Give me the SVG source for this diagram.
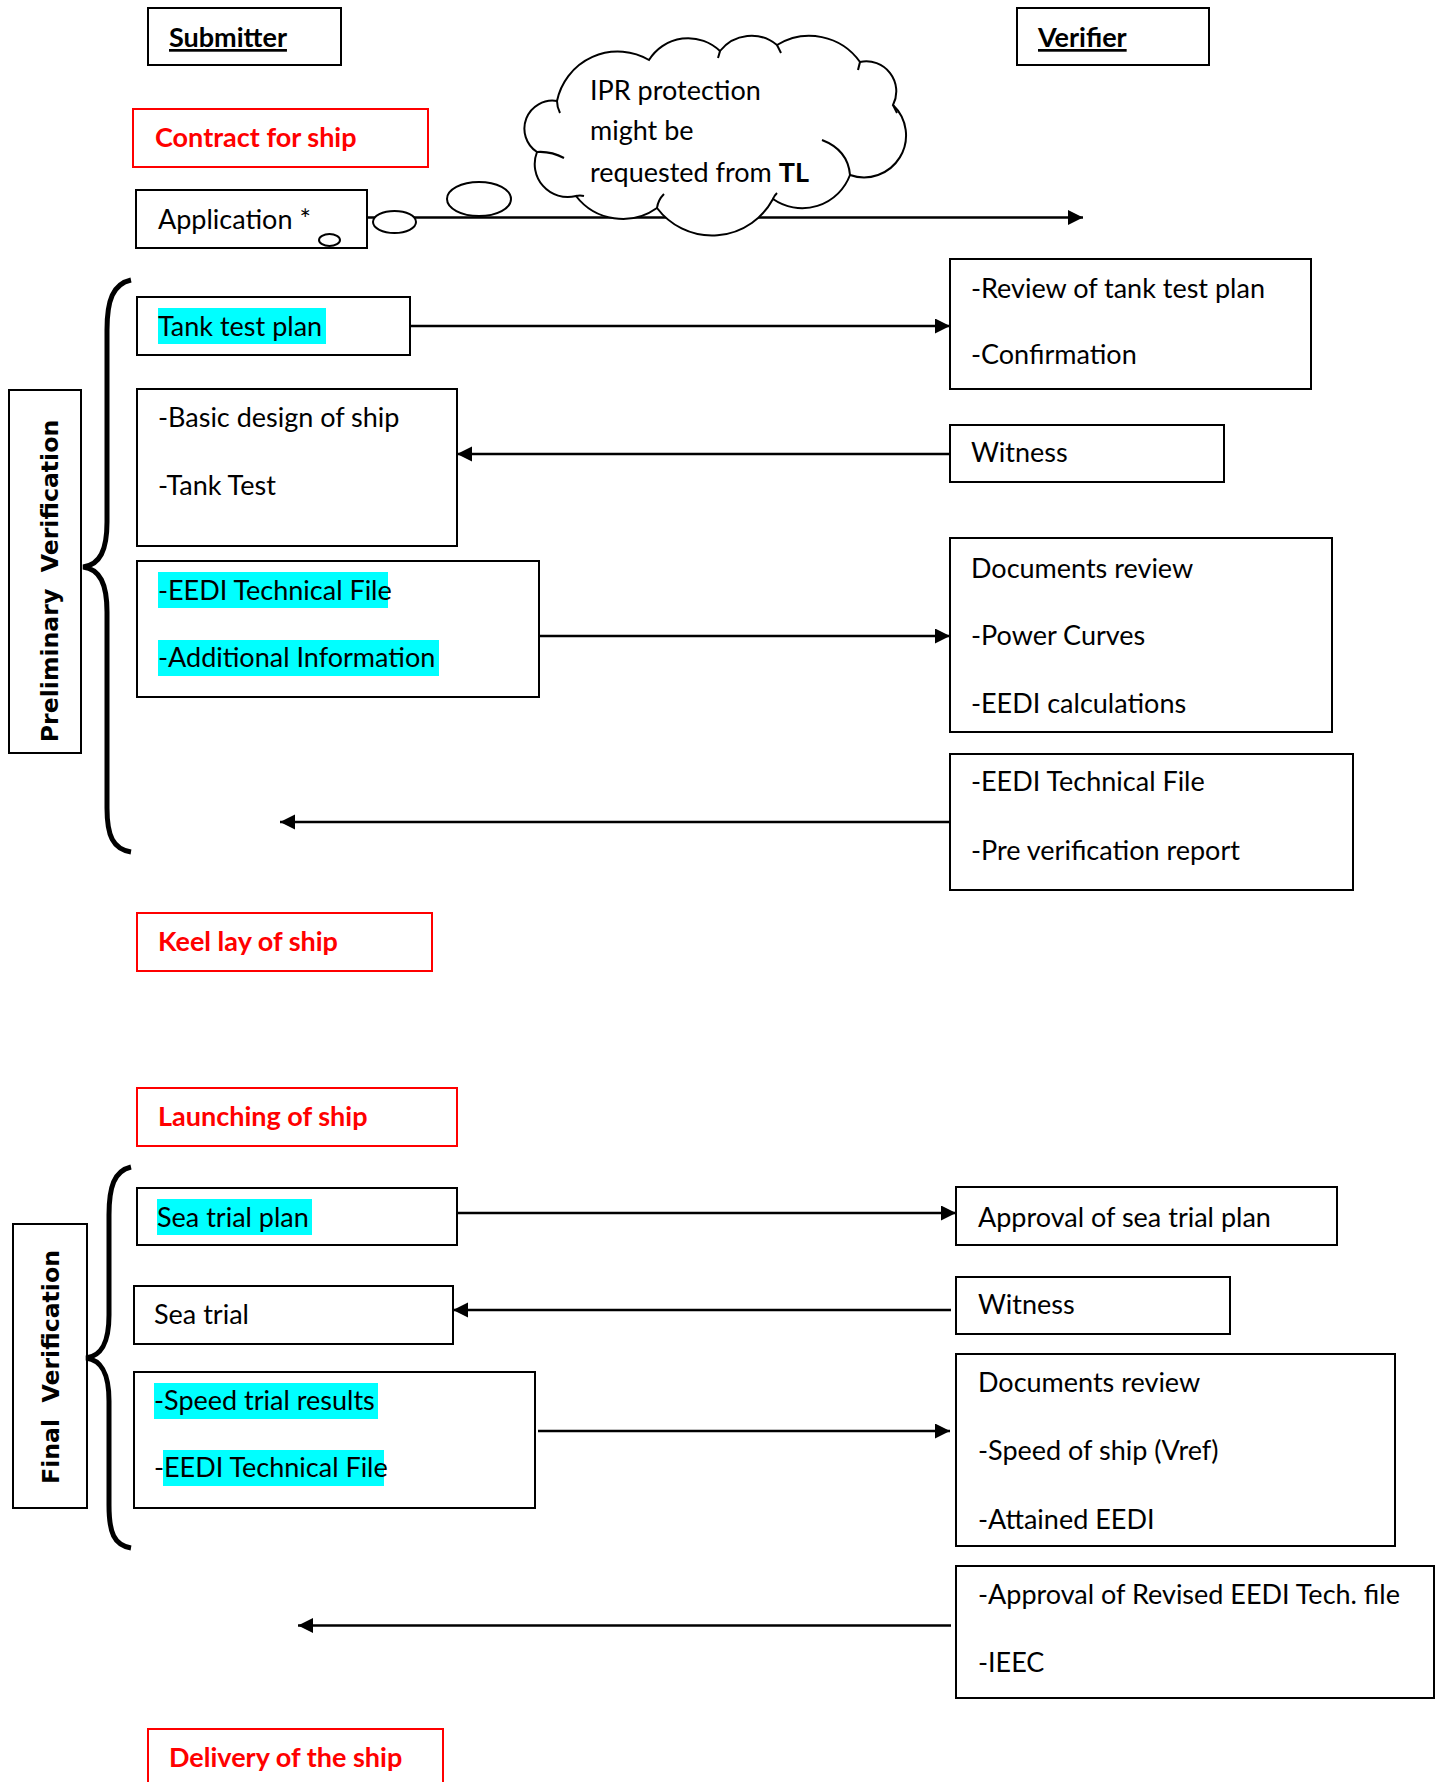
<svg xmlns="http://www.w3.org/2000/svg" width="1443" height="1782" viewBox="0 0 1443 1782">
<style>
.bg{fill:#fff}
.box{fill:#fff;stroke:#000;stroke-width:2}
.rbox{fill:#fff;stroke:#f00;stroke-width:2}
.t{font-family:Lato,"Liberation Sans",sans-serif;font-size:27px;fill:#000}
.b{font-family:Lato,"Liberation Sans",sans-serif;font-size:27px;font-weight:bold;fill:#000}
.red{fill:#f00}
.u{text-decoration:underline}
.hl{fill:#0ff}
.conn{stroke:#000;stroke-width:2.5;fill:none}
.brace{stroke:#000;stroke-width:5;fill:none;stroke-linecap:butt}
.vt{font-family:"DejaVu Sans",Verdana,sans-serif;font-size:23.6px;font-weight:bold;fill:#000;white-space:pre}
.cloud{fill:#fff;stroke:#000;stroke-width:2}
.inner{fill:none;stroke:#000;stroke-width:2}
</style>
<defs>
<marker id="arr" markerUnits="userSpaceOnUse" markerWidth="16" markerHeight="16" refX="15" refY="7.5" orient="auto">
<path d="M0,0 L15,7.5 L0,15 Z" fill="#000"/>
</marker>
</defs>
<rect class="bg" x="0" y="0" width="1443" height="1782"/>

<!-- connectors -->
<g id="connectors">
<line class="conn" x1="367" y1="217.5" x2="1083" y2="217.5" marker-end="url(#arr)"/>
<line class="conn" x1="410" y1="326" x2="950" y2="326" marker-end="url(#arr)"/>
<line class="conn" x1="950" y1="454" x2="457" y2="454" marker-end="url(#arr)"/>
<line class="conn" x1="539" y1="636" x2="950" y2="636" marker-end="url(#arr)"/>
<line class="conn" x1="950" y1="822" x2="280" y2="822" marker-end="url(#arr)"/>
<line class="conn" x1="457" y1="1213" x2="956" y2="1213" marker-end="url(#arr)"/>
<line class="conn" x1="951" y1="1310" x2="453" y2="1310" marker-end="url(#arr)"/>
<line class="conn" x1="538" y1="1431" x2="950" y2="1431" marker-end="url(#arr)"/>
<line class="conn" x1="951" y1="1625.5" x2="298" y2="1625.5" marker-end="url(#arr)"/>
</g>

<!-- headers -->
<g id="submitter">
<rect class="box" x="148" y="8" width="193" height="57"/>
<text class="b u" x="169" y="47">Submitter</text>
</g>
<g id="verifier">
<rect class="box" x="1017" y="8" width="192" height="57"/>
<text class="b u" x="1038" y="47">Verifier</text>
</g>

<!-- milestones -->
<g id="contract">
<rect class="rbox" x="133" y="109" width="295" height="58"/>
<text class="b red" x="155" y="147">Contract for ship</text>
</g>
<g id="keel">
<rect class="rbox" x="137" y="913" width="295" height="58"/>
<text class="b red" x="158" y="951">Keel lay of ship</text>
</g>
<g id="launching">
<rect class="rbox" x="137" y="1088" width="320" height="58"/>
<text class="b red" x="158" y="1126">Launching of ship</text>
</g>
<g id="delivery">
<rect class="rbox" x="148" y="1729" width="295" height="80"/>
<text class="b red" x="169" y="1767">Delivery of the ship</text>
</g>

<!-- application + cloud callout -->
<g id="application">
<rect class="box" x="136" y="190" width="231" height="58"/>
<text class="t" x="158" y="229">Application *</text>
</g>
<g id="ipr-cloud">
<ellipse class="cloud" cx="329.5" cy="240" rx="10.5" ry="6"/>
<ellipse class="cloud" cx="394.5" cy="222" rx="21.5" ry="11"/>
<ellipse class="cloud" cx="479" cy="199" rx="32" ry="17"/>
<path class="cloud" d="M537,152 A28,28 0 0 1 557,101 A62,62 0 0 1 649,60 A46,46 0 0 1 720,51 A40,40 0 0 1 777,45 A62,62 0 0 1 860,62 A30,30 0 0 1 893,105 A42,42 0 0 1 850,175 A51,51 0 0 1 773,199 A69,69 0 0 1 657,208 A59,59 0 0 1 576,196 A33,33 0 0 1 537,152 Z"/>
<path class="inner" d="M537,152 Q551,151 564,158"/>
<path class="inner" d="M557,101 Q557,107 560,113"/>
<path class="inner" d="M576,196 Q580,195 584,196"/>
<path class="inner" d="M657,208 Q658,200 664,194"/>
<path class="inner" d="M773,199 Q774,196 777,193"/>
<path class="inner" d="M822,140 Q848,150 850,175"/>
<path class="inner" d="M893,105 Q895,109 897,113"/>
<path class="inner" d="M860,62 Q859,66 858,70"/>
<path class="inner" d="M777,45 Q779,49 781,53"/>
<path class="inner" d="M720,51 Q719,55 718,58"/>
<text class="t" x="590" y="100">IPR protection</text>
<text class="t" x="590" y="140">might be</text>
<text class="t" x="590" y="182">requested from <tspan font-weight="bold">TL</tspan></text>
</g>

<!-- preliminary verification -->
<g id="prelim-label">
<rect class="box" x="9" y="390" width="72" height="363"/>
<text class="vt" text-anchor="middle" transform="translate(58,581) rotate(-90)">Preliminary  Verification</text>
</g>
<path id="prelim-brace" class="brace" d="M131,280 C113,284 107,300 107,330 L107,522 C107,550 100,565 83,567 C100,569 107,584 107,612 L107,808 C107,836 113,849 131,852"/>

<g id="tank-test-plan">
<rect class="box" x="137" y="297" width="273" height="58"/>
<rect class="hl" x="158" y="308" width="168" height="36"/>
<text class="t" x="158" y="336">Tank test plan</text>
</g>
<g id="basic-design">
<rect class="box" x="137" y="389" width="320" height="157"/>
<text class="t" x="158" y="427">-Basic design of ship</text>
<text class="t" x="158" y="495">-Tank Test</text>
</g>
<g id="eedi-submit">
<rect class="box" x="137" y="561" width="402" height="136"/>
<rect class="hl" x="158" y="572" width="230" height="36"/>
<rect class="hl" x="158" y="640" width="281" height="36"/>
<text class="t" x="158" y="600">-EEDI Technical File</text>
<text class="t" x="158" y="667">-Additional Information</text>
</g>

<g id="review-tank">
<rect class="box" x="950" y="259" width="361" height="130"/>
<text class="t" x="971" y="298">-Review of tank test plan</text>
<text class="t" x="971" y="364">-Confirmation</text>
</g>
<g id="witness-1">
<rect class="box" x="950" y="425" width="274" height="57"/>
<text class="t" x="971" y="462">Witness</text>
</g>
<g id="docs-review-1">
<rect class="box" x="950" y="538" width="382" height="194"/>
<text class="t" x="971" y="578">Documents review</text>
<text class="t" x="971" y="645">-Power Curves</text>
<text class="t" x="971" y="713">-EEDI calculations</text>
</g>
<g id="pre-verification">
<rect class="box" x="950" y="754" width="403" height="136"/>
<text class="t" x="971" y="791">-EEDI Technical File</text>
<text class="t" x="971" y="860">-Pre verification report</text>
</g>

<!-- final verification -->
<g id="final-label">
<rect class="box" x="13" y="1224" width="74" height="284"/>
<text class="vt" text-anchor="middle" transform="translate(59,1367) rotate(-90)">Final  Verification</text>
</g>
<path id="final-brace" class="brace" d="M131,1167 C114,1171 109,1187 109,1215 L109,1315 C109,1342 102,1356 86,1358 C102,1360 109,1374 109,1401 L109,1505 C109,1533 114,1545 131,1548"/>

<g id="sea-trial-plan">
<rect class="box" x="137" y="1188" width="320" height="57"/>
<rect class="hl" x="157" y="1199" width="155" height="36"/>
<text class="t" x="157" y="1227">Sea trial plan</text>
</g>
<g id="sea-trial">
<rect class="box" x="134" y="1286" width="319" height="58"/>
<text class="t" x="154" y="1324">Sea trial</text>
</g>
<g id="speed-trial">
<rect class="box" x="134" y="1372" width="401" height="136"/>
<rect class="hl" x="154" y="1383" width="224" height="36"/>
<rect class="hl" x="163" y="1450" width="221" height="36"/>
<text class="t" x="154" y="1410">-Speed trial results</text>
<text class="t" x="154" y="1477">-EEDI Technical File</text>
</g>

<g id="approval-sea-trial">
<rect class="box" x="956" y="1187" width="381" height="58"/>
<text class="t" x="978" y="1227">Approval of sea trial plan</text>
</g>
<g id="witness-2">
<rect class="box" x="956" y="1277" width="274" height="57"/>
<text class="t" x="978" y="1314">Witness</text>
</g>
<g id="docs-review-2">
<rect class="box" x="956" y="1354" width="439" height="192"/>
<text class="t" x="978" y="1392">Documents review</text>
<text class="t" x="978" y="1460">-Speed of ship (Vref)</text>
<text class="t" x="978" y="1529">-Attained EEDI</text>
</g>
<g id="approval-revised">
<rect class="box" x="956" y="1566" width="478" height="132"/>
<text class="t" x="978" y="1604">-Approval of Revised EEDI Tech. file</text>
<text class="t" x="978" y="1672">-IEEC</text>
</g>
</svg>
